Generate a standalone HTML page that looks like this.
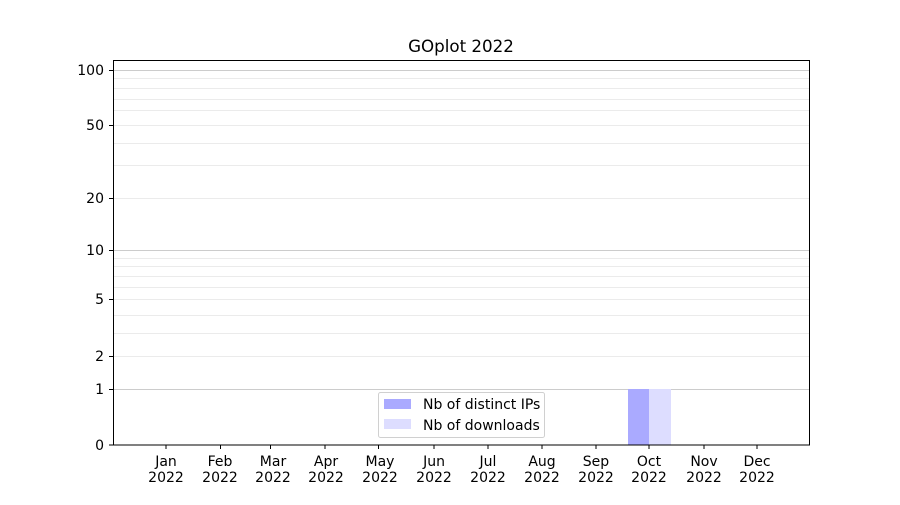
<!DOCTYPE html>
<html><head><meta charset="utf-8"><style>body{margin:0;background:#fff}</style></head><body>
<svg width="900" height="500" xmlns="http://www.w3.org/2000/svg" font-family="'DejaVu Sans', sans-serif" font-size="14">
<rect width="900" height="500" fill="#fff"/>
<g stroke="#ebebeb" stroke-width="1">
<line x1="113" x2="810" y1="333.5" y2="333.5"/>
<line x1="113" x2="810" y1="315.5" y2="315.5"/>
<line x1="113" x2="810" y1="299.5" y2="299.5"/>
<line x1="113" x2="810" y1="287.5" y2="287.5"/>
<line x1="113" x2="810" y1="276.5" y2="276.5"/>
<line x1="113" x2="810" y1="266.5" y2="266.5"/>
<line x1="113" x2="810" y1="258.5" y2="258.5"/>
<line x1="113" x2="810" y1="356.5" y2="356.5"/>
<line x1="113" x2="810" y1="198.5" y2="198.5"/>
<line x1="113" x2="810" y1="165.5" y2="165.5"/>
<line x1="113" x2="810" y1="143.5" y2="143.5"/>
<line x1="113" x2="810" y1="125.5" y2="125.5"/>
<line x1="113" x2="810" y1="110.5" y2="110.5"/>
<line x1="113" x2="810" y1="99.5" y2="99.5"/>
<line x1="113" x2="810" y1="88.5" y2="88.5"/>
<line x1="113" x2="810" y1="78.5" y2="78.5"/>
</g>
<g stroke="#cccccc" stroke-width="1">
<line x1="113" x2="810" y1="389.5" y2="389.5"/>
<line x1="113" x2="810" y1="250.5" y2="250.5"/>
<line x1="113" x2="810" y1="70.5" y2="70.5"/>
</g>
<rect x="628" y="389" width="21" height="56" fill="#aaaaff"/>
<rect x="649" y="389" width="22" height="56" fill="#ddddff"/>
<rect x="113.5" y="60.5" width="696" height="384.5" fill="none" stroke="#000" stroke-width="1"/>
<g stroke="#000">
<line x1="109" x2="113" y1="445" y2="445"/><line x1="109" x2="113" y1="389.5" y2="389.5"/>
<line x1="109" x2="113" y1="356.5" y2="356.5"/><line x1="109" x2="113" y1="299.5" y2="299.5"/>
<line x1="109" x2="113" y1="250.5" y2="250.5"/><line x1="109" x2="113" y1="198.5" y2="198.5"/>
<line x1="109" x2="113" y1="125.5" y2="125.5"/><line x1="109" x2="113" y1="70.5" y2="70.5"/>
</g>
<g text-anchor="end" font-size="14">
<text x="104" y="450">0</text><text x="104" y="394">1</text><text x="104" y="361">2</text>
<text x="104" y="304">5</text><text x="104" y="255">10</text><text x="104" y="203">20</text>
<text x="104" y="130">50</text><text x="104" y="75">100</text>
</g>
<g stroke="#000">
<line x1="166" x2="166" y1="445" y2="449"/><line x1="220.5" x2="220.5" y1="445" y2="449"/>
<line x1="270.5" x2="270.5" y1="445" y2="449"/><line x1="325" x2="325" y1="445" y2="449"/>
<line x1="378.5" x2="378.5" y1="445" y2="449"/><line x1="434" x2="434" y1="445" y2="449"/>
<line x1="488" x2="488" y1="445" y2="449"/><line x1="542" x2="542" y1="445" y2="449"/>
<line x1="596" x2="596" y1="445" y2="449"/><line x1="649" x2="649" y1="445" y2="449"/>
<line x1="704" x2="704" y1="445" y2="449"/><line x1="757" x2="757" y1="445" y2="449"/>
</g>
<g text-anchor="middle" font-size="14">
<text x="166" y="466">Jan</text><text x="166" y="482">2022</text>
<text x="220" y="466">Feb</text><text x="220" y="482">2022</text>
<text x="273" y="466">Mar</text><text x="273" y="482">2022</text>
<text x="326" y="466">Apr</text><text x="326" y="482">2022</text>
<text x="380" y="466">May</text><text x="380" y="482">2022</text>
<text x="434" y="466">Jun</text><text x="434" y="482">2022</text>
<text x="488" y="466">Jul</text><text x="488" y="482">2022</text>
<text x="542" y="466">Aug</text><text x="542" y="482">2022</text>
<text x="596" y="466">Sep</text><text x="596" y="482">2022</text>
<text x="649" y="466">Oct</text><text x="649" y="482">2022</text>
<text x="704" y="466">Nov</text><text x="704" y="482">2022</text>
<text x="757" y="466">Dec</text><text x="757" y="482">2022</text>
</g>
<text x="461" y="52" text-anchor="middle" font-size="16.7">GOplot 2022</text>
<rect x="378.5" y="392.5" width="166" height="45" rx="2" fill="#fff" fill-opacity="0.8" stroke="#d0d0d0"/>
<rect x="384" y="399" width="27" height="10" fill="#aaaaff"/>
<rect x="384" y="419" width="27" height="10" fill="#ddddff"/>
<text x="423" y="409">Nb of distinct IPs</text>
<text x="423" y="430">Nb of downloads</text>
</svg>
</body></html>
